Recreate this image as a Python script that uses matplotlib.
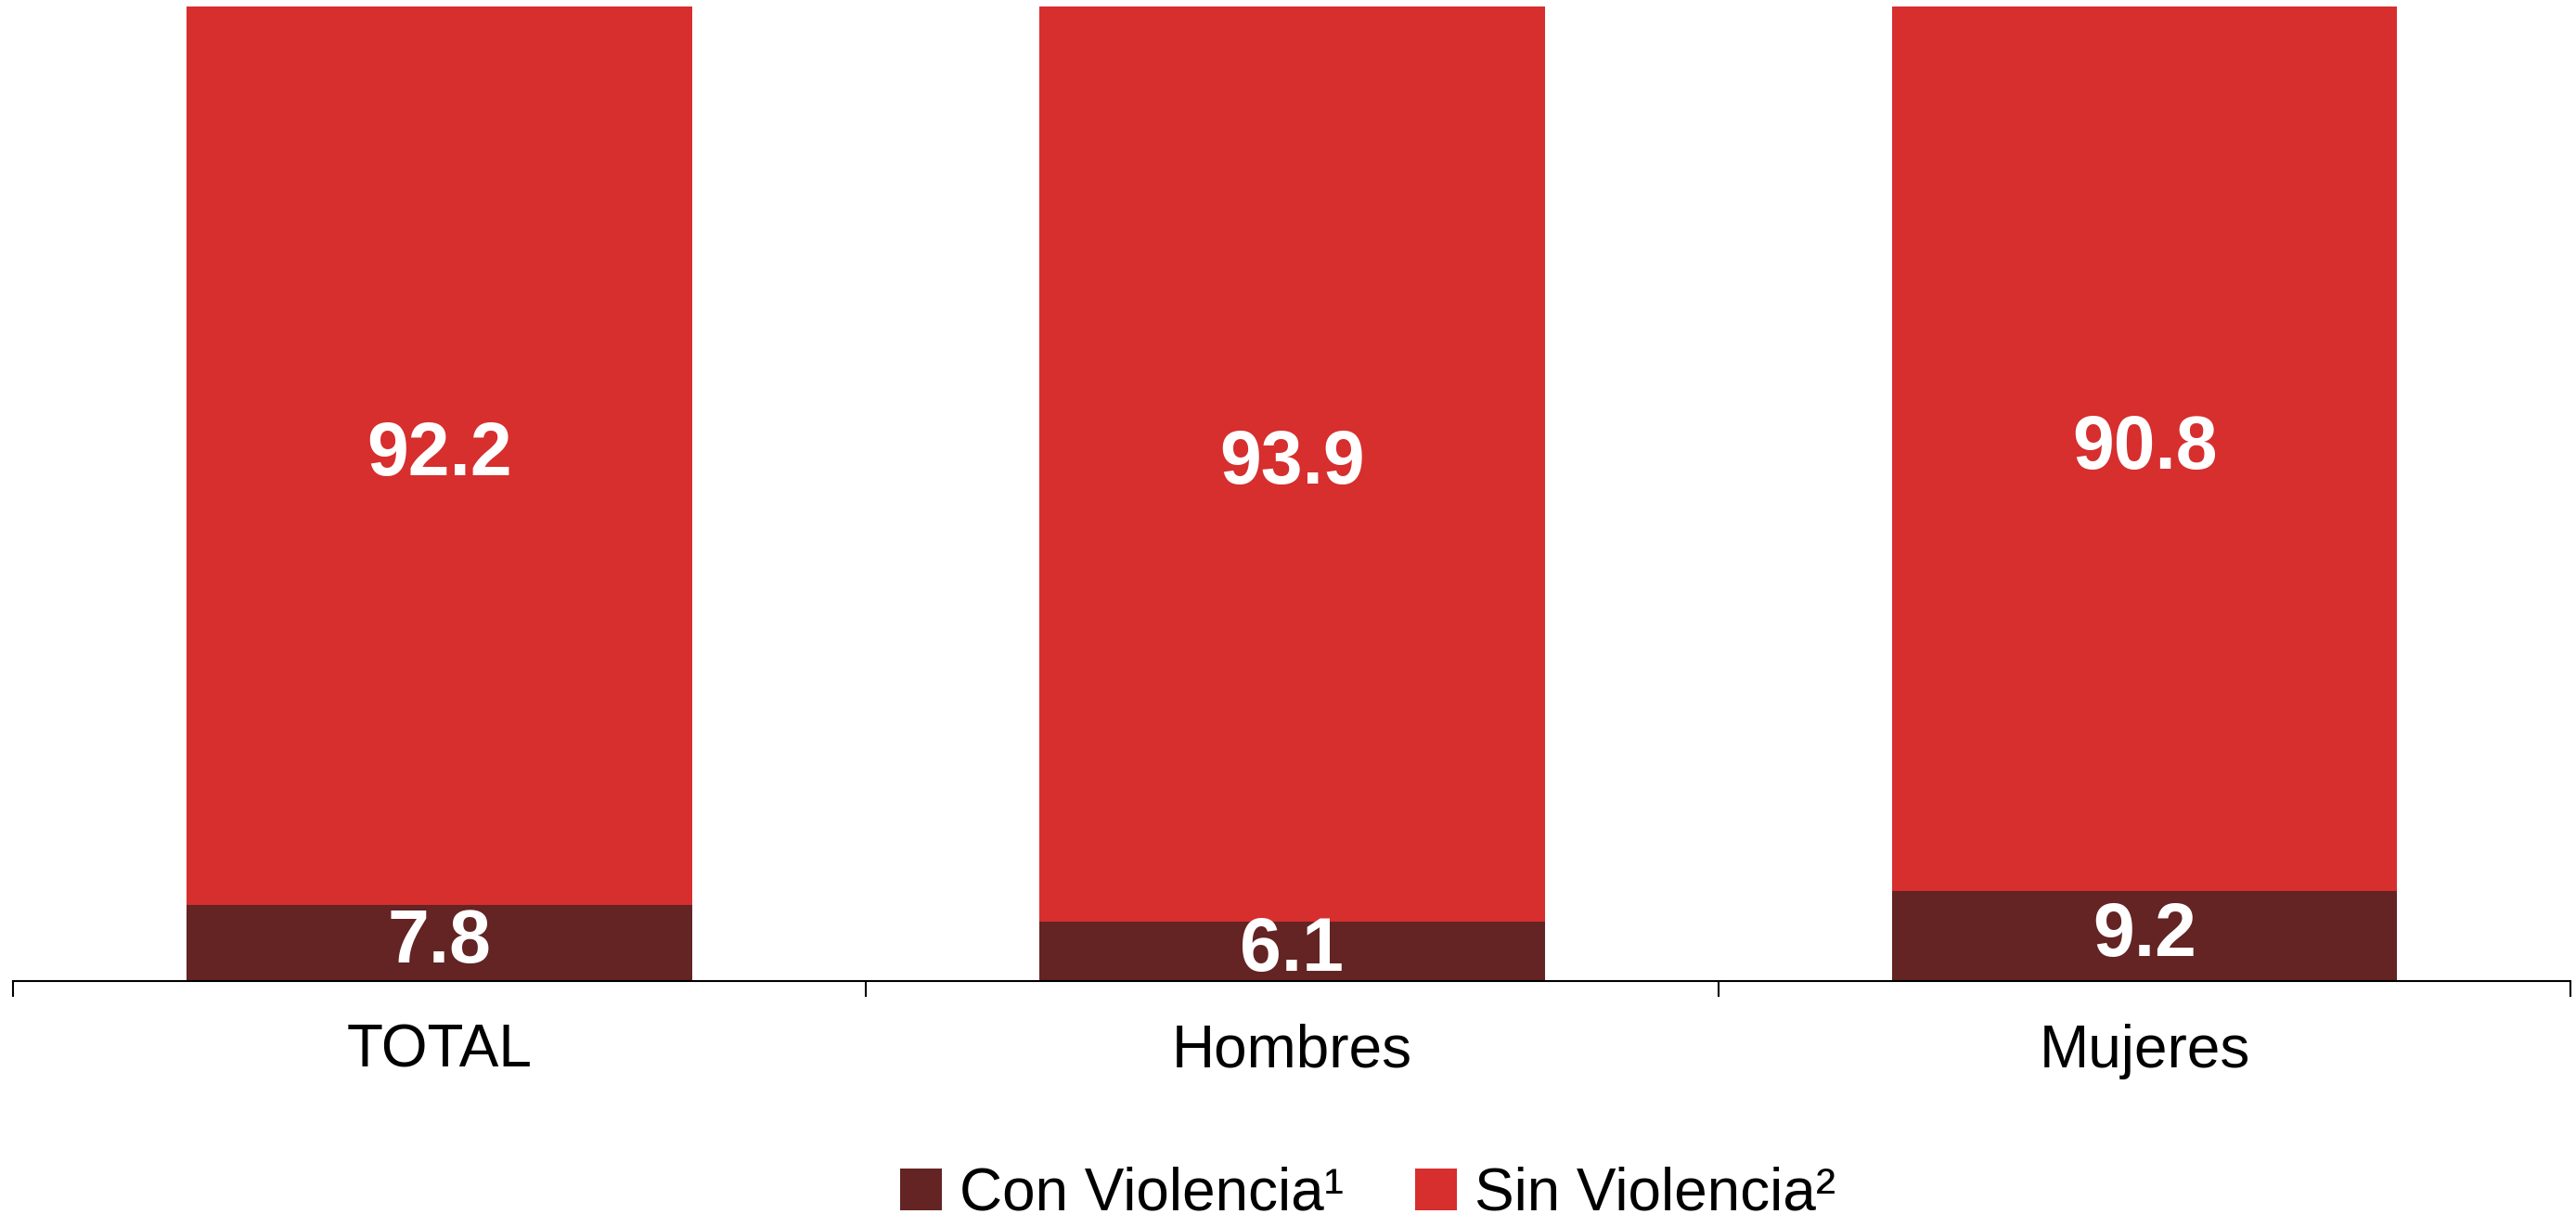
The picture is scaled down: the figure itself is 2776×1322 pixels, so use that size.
import matplotlib
matplotlib.use('Agg')
import matplotlib.pyplot as plt

categories = ['TOTAL', 'Hombres', 'Mujeres']
con_violencia = [7.8, 6.1, 9.2]
sin_violencia = [92.2, 93.9, 90.8]
series_names = ['Con Violencia¹', 'Sin Violencia²']

color_con = '#632423'
color_sin = '#D72E2E'

plt.rcParams['font.family'] = ['Liberation Sans', 'DejaVu Sans']

fig = plt.figure(figsize=(27.76, 13.22), dpi=100)
ax = fig.add_axes([0.005, 0.2005, 0.993, 0.7942])

x = list(range(len(categories)))
width = 0.593
b1 = ax.bar(x, con_violencia, width, color=color_con, label=series_names[0])
b2 = ax.bar(x, sin_violencia, width, bottom=con_violencia, color=color_sin, label=series_names[1])

# value labels in the middle of each segment
for i in x:
    ax.text(i, con_violencia[i] / 2, f'{con_violencia[i]:.1f}', ha='center', va='center',
            color='white', fontsize=58, fontweight='bold')
    ax.text(i, con_violencia[i] + sin_violencia[i] / 2, f'{sin_violencia[i]:.1f}', ha='center',
            va='center', color='white', fontsize=58, fontweight='bold')

ax.set_xlim(-0.5, len(categories) - 0.5)
ax.set_ylim(0, 100)
ax.set_yticks([])
for s in ['top', 'right', 'left']:
    ax.spines[s].set_visible(False)
ax.spines['bottom'].set_linewidth(1.5)

ax.set_xticks(x)
ax.set_xticklabels(categories, fontsize=46)
ax.tick_params(axis='x', which='major', length=0, pad=33)
ax.set_xticks([-0.5, 0.5, 1.5, 2.5], minor=True)
ax.tick_params(axis='x', which='minor', length=12, width=1.5, direction='out')

fig.legend([b1, b2], series_names, loc='center', bbox_to_anchor=(0.531, 0.0265), ncol=2,
           frameon=False, fontsize=46, handlelength=0.7, handleheight=0.7,
           handletextpad=0.3, columnspacing=1.2)

fig.savefig('out.png', dpi=100)
